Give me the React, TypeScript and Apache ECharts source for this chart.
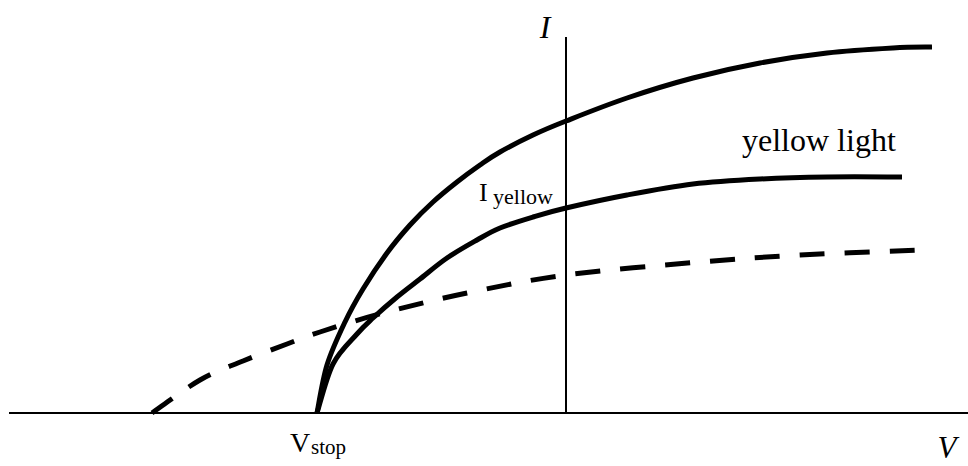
import React, { useEffect, useRef } from "react";
import * as echarts from "echarts";

// Voltage (V) and current (I) in arbitrary units
const upperV = [-2.49, -2.39, -2.21, -2.03, -1.79, -1.56, -1.33, -1.09, -0.86, -0.66, -0.33, 0, 0.61, 1.27, 1.94, 2.61, 3.27, 3.66];
const upperI = [0, 0.48, 0.91, 1.24, 1.6, 1.88, 2.11, 2.31, 2.48, 2.61, 2.78, 2.92, 3.15, 3.35, 3.5, 3.6, 3.65, 3.66];

const yellowV = [-2.49, -2.33, -2.09, -1.93, -1.69, -1.46, -1.19, -0.89, -0.66, -0.33, 0, 0.61, 1.27, 1.94, 2.61, 3.36];
const yellowI = [0, 0.49, 0.79, 0.95, 1.16, 1.34, 1.55, 1.73, 1.85, 1.96, 2.05, 2.18, 2.29, 2.34, 2.36, 2.36];

const dashedV = [-4.14, -3.66, -3.23, -2.79, -2.46, -1.83, -0.99, 0, 1.34, 2.34, 3.54];
const dashedI = [0, 0.33, 0.52, 0.69, 0.81, 1.0, 1.2, 1.38, 1.51, 1.58, 1.63];

const hAxisV = [-5.57, 4.02];
const vAxisI = [0, 3.76];

const zip = (a: number[], b: number[]) => a.map((v, i) => [v, b[i]]);

// Catmull-Rom spline through pixel points -> SVG path data
function splinePath(pts: number[][]): string {
  if (!pts.length) return "";
  let d = `M${pts[0][0]},${pts[0][1]}`;
  for (let i = 0; i < pts.length - 1; i++) {
    const p0 = pts[i - 1] || pts[i];
    const p1 = pts[i];
    const p2 = pts[i + 1];
    const p3 = pts[i + 2] || pts[i + 1];
    const c1x = p1[0] + (p2[0] - p0[0]) / 6;
    const c1y = p1[1] + (p2[1] - p0[1]) / 6;
    const c2x = p2[0] - (p3[0] - p1[0]) / 6;
    const c2y = p2[1] - (p3[1] - p1[1]) / 6;
    d += ` C${c1x},${c1y} ${c2x},${c2y} ${p2[0]},${p2[1]}`;
  }
  return d;
}

function curveSeries(vs: number[], is: number[], dash?: number[]) {
  return {
    type: "custom",
    coordinateSystem: "cartesian2d",
    data: zip(vs, is),
    silent: true,
    renderItem: (params: any, api: any) => {
      if (params.dataIndex !== 0) return null;
      const pts = vs.map((v, i) => api.coord([v, is[i]]));
      return {
        type: "path",
        shape: { pathData: splinePath(pts) },
        style: {
          fill: "none",
          stroke: "#000",
          lineWidth: 5,
          lineCap: "butt",
          lineJoin: "round",
          lineDash: dash || null,
        },
      };
    },
  };
}

export default function App() {
  const ref = useRef<HTMLDivElement>(null);
  useEffect(() => {
    if (!ref.current) return;
    const chart = echarts.init(ref.current, null, { renderer: "svg" });
    const serif = "'Liberation Serif', 'Times New Roman', serif";
    chart.setOption({
      animation: false,
      backgroundColor: "#fff",
      grid: { left: 0, right: 0, top: 0, bottom: 0, containLabel: false },
      xAxis: { type: "value", min: -5.66, max: 4.02, show: false },
      yAxis: { type: "value", min: -0.53, max: 4.13, show: false },
      series: [
        {
          type: "line",
          data: hAxisV.map((v) => [v, 0]),
          symbol: "none",
          lineStyle: { color: "#000", width: 2 },
        },
        {
          type: "line",
          data: vAxisI.map((i) => [0, i]),
          symbol: "none",
          lineStyle: { color: "#000", width: 2 },
        },
        curveSeries(upperV, upperI),
        curveSeries(yellowV, yellowI),
        curveSeries(dashedV, dashedI, [25, 20]),
      ],
      graphic: [
        {
          type: "text",
          x: 545,
          y: 27,
          style: { text: "I", font: `italic 32px ${serif}`, fill: "#000", align: "center", verticalAlign: "middle" },
        },
        {
          type: "text",
          x: 947,
          y: 447,
          style: { text: "V", font: `italic 31px ${serif}`, fill: "#000", align: "center", verticalAlign: "middle" },
        },
        {
          type: "text",
          x: 290,
          y: 456,
          style: { text: "V", font: `28px ${serif}`, fill: "#000", align: "left", verticalAlign: "bottom" },
        },
        {
          type: "text",
          x: 311,
          y: 457,
          style: { text: "stop", font: `21px ${serif}`, fill: "#000", align: "left", verticalAlign: "bottom" },
        },
        {
          type: "text",
          x: 479,
          y: 205,
          style: { text: "I", font: `26px ${serif}`, fill: "#000", align: "left", verticalAlign: "bottom" },
        },
        {
          type: "text",
          x: 493,
          y: 207,
          style: { text: "yellow", font: `22px ${serif}`, fill: "#000", align: "left", verticalAlign: "bottom" },
        },
        {
          type: "text",
          x: 742,
          y: 156,
          style: { text: "yellow light", font: `32px ${serif}`, fill: "#000", align: "left", verticalAlign: "bottom" },
        },
      ],
    });
    return () => chart.dispose();
  }, []);
  return (
    <div
      ref={ref}
      style={{ position: "fixed", left: 0, top: 0, width: 968, height: 466, background: "#fff" }}
    />
  );
}
